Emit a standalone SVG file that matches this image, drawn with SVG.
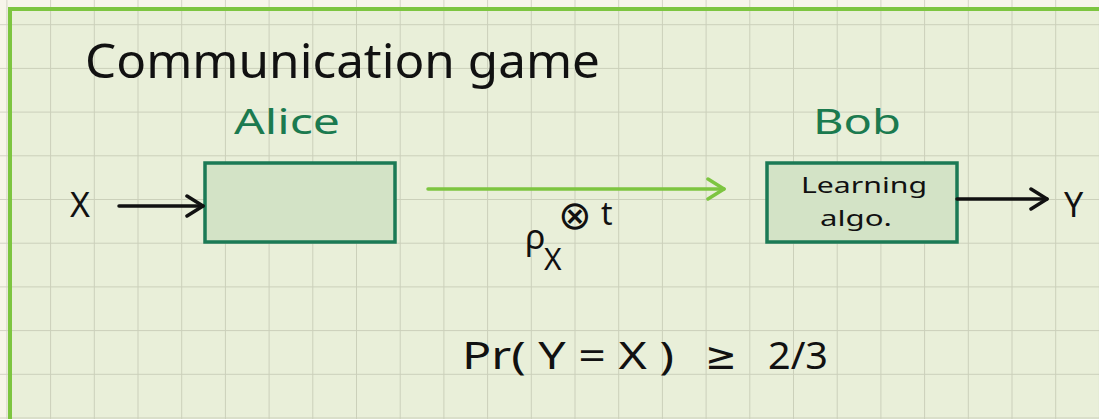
<svg xmlns="http://www.w3.org/2000/svg" width="1099" height="419" viewBox="0 0 1099 419">
  <style>
    .hand { font-family: "Noto Sans", "DejaVu Sans", sans-serif; fill: #111; }
    .green { fill: #1b7a4f; }
    .box { fill: #d3e3c6; stroke: #1b7a55; stroke-width: 3.5; }
    .conn { fill: none; stroke: #111; stroke-width: 3.5; stroke-linecap: round; }
  </style>
  <defs>
    <pattern id="grid" patternUnits="userSpaceOnUse" x="6.4" y="24.2" width="43.7" height="43.7">
      <path d="M0 0 H43.7 M0 0 V43.7" fill="none" stroke="#9ea08c" stroke-opacity="0.4" stroke-width="2"/>
    </pattern>
    <marker id="ah" markerUnits="userSpaceOnUse" markerWidth="30" markerHeight="30" refX="22" refY="12" orient="auto">
      <path d="M6 2 L22 12 L6 22" fill="none" stroke="#111" stroke-width="3.5" stroke-linecap="round" stroke-linejoin="round"/>
    </marker>
    <marker id="ahg" markerUnits="userSpaceOnUse" markerWidth="30" markerHeight="30" refX="22" refY="12" orient="auto">
      <path d="M6 2 L22 12 L6 22" fill="none" stroke="#7dc540" stroke-width="3.5" stroke-linecap="round" stroke-linejoin="round"/>
    </marker>
  </defs>

  <rect x="0" y="0" width="1099" height="419" fill="#f7f5ea"/>
  <rect x="10" y="9" width="1095" height="420" fill="#e9efd9"/>
  <rect x="0" y="0" width="1099" height="419" fill="url(#grid)"/>
  <rect x="10" y="9" width="1100" height="430" fill="none" stroke="#7dc540" stroke-width="4"/>

  <text class="hand" x="85" y="78" font-size="48" textLength="515" lengthAdjust="spacingAndGlyphs">Communication game</text>

  <g id="x-input">
    <text class="hand" x="70" y="217" font-size="34">X</text>
  </g>

  <g id="alice">
    <text class="hand green" x="234" y="134" font-size="34" textLength="106" lengthAdjust="spacingAndGlyphs">Alice</text>
    <rect class="box" x="205" y="163" width="190" height="79"/>
  </g>

  <g id="bob">
    <text class="hand green" x="813" y="134" font-size="34" textLength="88" lengthAdjust="spacingAndGlyphs">Bob</text>
    <rect class="box" x="767" y="163" width="190" height="79"/>
    <text class="hand" x="801" y="193" font-size="22" textLength="126" lengthAdjust="spacingAndGlyphs">Learning</text>
    <text class="hand" x="820" y="226" font-size="22" textLength="72" lengthAdjust="spacingAndGlyphs">algo.</text>
  </g>

  <g id="y-output">
    <text class="hand" x="1064" y="217" font-size="34">Y</text>
  </g>

  <g id="connectors">
    <line class="conn" x1="119" y1="206" x2="203" y2="206" marker-end="url(#ah)"/>
    <line x1="428" y1="189" x2="724" y2="189" fill="none" stroke="#7dc540" stroke-width="3.5" stroke-linecap="round" marker-end="url(#ahg)"/>
    <line class="conn" x1="957" y1="199" x2="1047" y2="199" marker-end="url(#ah)"/>
  </g>

  <g id="message-label">
    <text class="hand" x="525" y="249" font-size="34">ρ</text>
    <text class="hand" x="544" y="270" font-size="30">X</text>
    <text class="hand" x="558" y="229" font-size="40">⊗</text>
    <text class="hand" x="601" y="225" font-size="32">t</text>
  </g>

  <g id="formula">
    <text class="hand" x="462" y="369" font-size="38" textLength="212" lengthAdjust="spacingAndGlyphs">Pr( Y = X )</text>
    <text class="hand" x="705" y="369" font-size="38">≥</text>
    <text class="hand" x="768" y="369" font-size="38" textLength="60" lengthAdjust="spacingAndGlyphs">2/3</text>
  </g>
</svg>
